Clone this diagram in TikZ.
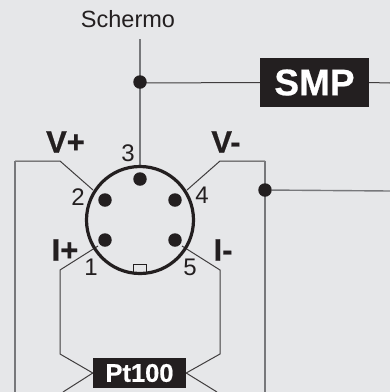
\documentclass[tikz,border=0pt]{standalone}
\usepackage{fontspec}
\setmainfont{Liberation Sans}[BoldFeatures={FakeBold=0.6}]
\definecolor{bgc}{HTML}{E6E7E9}
\definecolor{ink}{HTML}{231F20}
\definecolor{wgray}{HTML}{77787B}
\newcommand{\fsz}[1]{\fontsize{#1}{#1}\selectfont}
\tikzset{
  wire/.style={draw=ink!85!bgc,line width=1pt},
  graywire/.style={draw=wgray,line width=1.4pt},
  pin/.style={circle,fill=ink,inner sep=0pt,minimum size=13.5pt},
  blackbox/.style={fill=ink,text=white,inner sep=0pt,font=\bfseries},
  num/.style={text=ink,inner sep=0pt,font=\fsz{24}},
  sig/.style={text=ink,inner sep=0pt,font=\bfseries\fsz{31}}
}
\begin{document}
\begin{tikzpicture}[x=1pt,y=-1pt]
\useasboundingbox[fill=bgc] (0,0) rectangle (390,392);
% free ends
\coordinate (topend) at (140,39);
\coordinate (smpend) at (390,83);
\coordinate (shieldend) at (390,191);
\coordinate (vpA) at (60,161); \coordinate (vpB) at (15,161); \coordinate (vpC) at (15,392);
\coordinate (vmA) at (220,161); \coordinate (vmB) at (265,161); \coordinate (vmC) at (265,392);
\coordinate (ipA) at (60,270); \coordinate (ipB) at (60,354);
\coordinate (imA) at (220,270); \coordinate (imB) at (220,354);
\coordinate (lowL) at (63,392); \coordinate (lowR) at (217,392);
% nodes
\node[blackbox,minimum width=109pt,minimum height=49pt,font=\bfseries\fsz{37}] (smp) at (314.5,82.5) {SMP};
\node[blackbox,minimum width=93pt,minimum height=30pt,font=\bfseries\fsz{25.5}] (pt) at (139.5,373) {Pt100};
\node[circle,minimum size=0pt,inner sep=0pt,text width=0pt] (c) at (140,220) {};
\coordinate (ctop) at (140,165);
\coordinate (w2) at (93,190);
\coordinate (w4) at (187,190);
\coordinate (w1) at (98,246);
\coordinate (w5) at (182,246);
\coordinate (j1c) at (140,83);
% wires
\draw[graywire] (topend) -- (ctop);
\draw[wire] (j1c) -- (smp.west);
\draw[wire] (smp.east) -- (smpend);
\draw[wire] (w2) -- (vpA) -- (vpB);
\draw[wire] (w4) -- (vmA) -- (vmB);
\draw[wire] (w1) -- (ipA) -- (ipB) -- (pt.west);
\draw[wire] (w5) -- (imA) -- (imB) -- (pt.east);
\draw[wire] (pt.west) -- (lowL);
\draw[wire] (pt.east) -- (lowR);
\draw[graywire] (vpB) -- (vpC);
\draw[graywire] (vmB) -- (vmC);
% connector
\node[pin] (j2) at (265,190) {};
\draw[graywire] (j2) -- (shieldend);
\draw[draw=ink,line width=1pt,fill=bgc] (133.5,264.5) rectangle (146.5,273);
\draw[draw=ink,line width=3.2pt] (c) circle[radius=53.5];
\node[pin] (p3) at (140,179) {};
\node[pin] (p2) at (105,200) {};
\node[pin] (p4) at (175,200) {};
\node[pin] (p1) at (105,240) {};
\node[pin] (p5) at (175,240) {};
\node[pin] (j1) at (140,82) {};
% labels
\node[text=ink,inner sep=0pt,font=\fsz{23.5}] (sch) at (128,19.5) {Schermo};
\node[num] (n3) at (128,153) {3};
\node[num] (n2) at (78,197) {2};
\node[num] (n4) at (202,195) {4};
\node[num] (n1) at (91,267) {1};
\node[num] (n5) at (190,267) {5};
\node[sig] (vp) at (65.5,142) {V+};
\node[sig] (vm) at (226,142) {V-};
\node[sig] (ip) at (65,250) {I+};
\node[sig] (im) at (223,250) {I-};
\end{tikzpicture}
\end{document}
